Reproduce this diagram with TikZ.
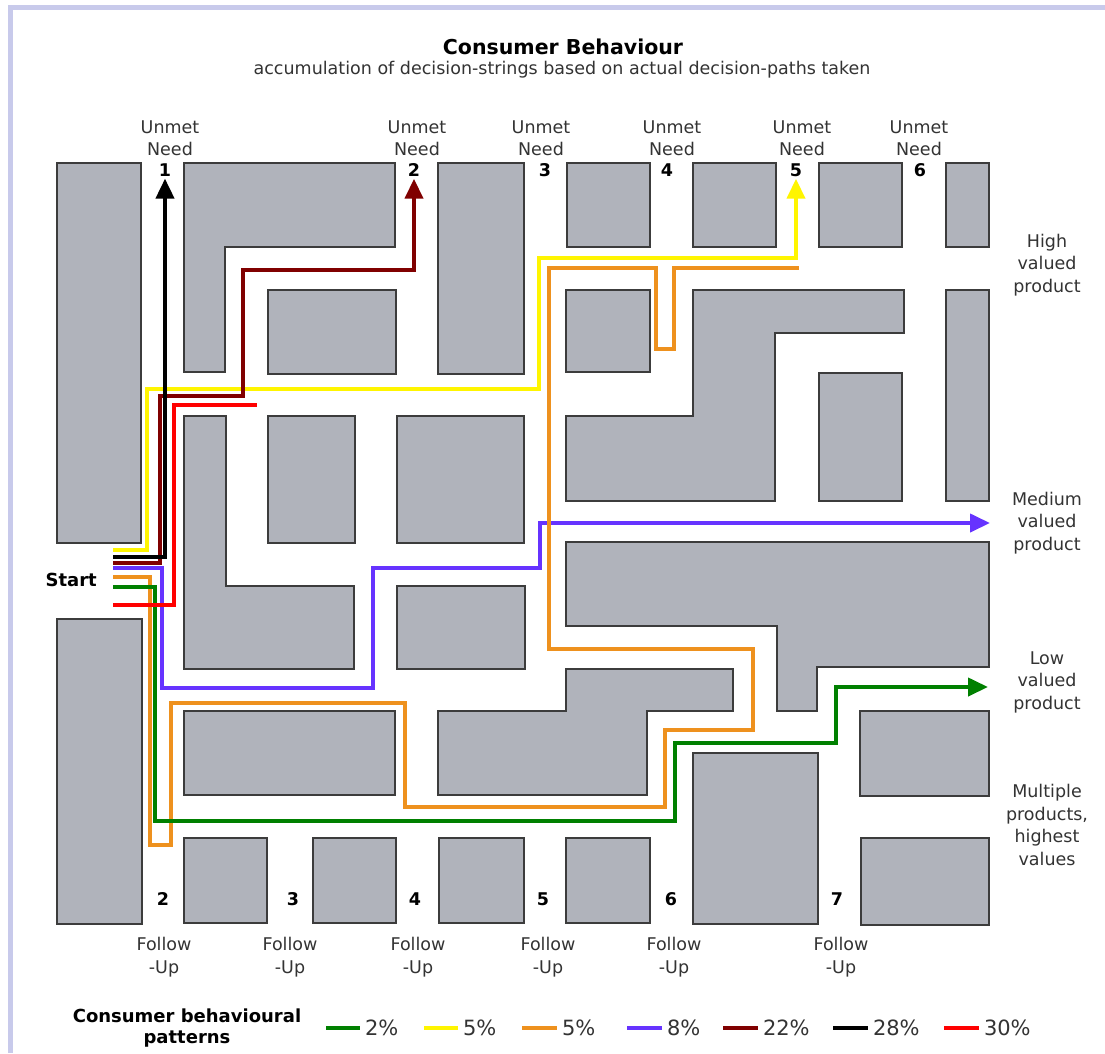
\documentclass[tikz,border=0pt]{standalone}
\usepackage{fontspec}
\setmainfont{DejaVu Sans}
\usetikzlibrary{arrows.meta}

\definecolor{blockgray}{RGB}{176,179,187}
\definecolor{blockedge}{RGB}{60,60,60}
\definecolor{framecol}{RGB}{200,202,235}
\definecolor{pgreen}{RGB}{0,128,0}
\definecolor{pyellow}{RGB}{255,245,0}
\definecolor{porange}{RGB}{238,145,30}
\definecolor{ppurple}{RGB}{102,51,255}
\definecolor{pdarkred}{RGB}{128,0,0}
\definecolor{pred}{RGB}{255,0,0}

\begin{document}
\begin{tikzpicture}[x=1pt,y=-1pt,>={Triangle[length=20pt,width=18pt]},
	block/.style={fill=blockgray,draw=blockedge,line width=2pt},
	route/.style={line width=4pt},
	txt/.style={font=\fontsize{17.5}{22.5}\selectfont,text=black!80,align=center,inner sep=0pt},
	num/.style={font=\fontsize{17.5}{21}\selectfont\bfseries,inner sep=2pt},
	key/.style={line width=4pt},
	key text/.style={font=\fontsize{21}{25}\selectfont,text=black!80,right,inner sep=3pt}]

	\useasboundingbox (0,0) rectangle (1105,1053);
	\fill[white] (0,0) rectangle (1105,1053);
	\draw[framecol,line width=5pt] (10,1053) -- (10,7) -- (1105,7);

	%blocks
	\draw[block] (57,163) rectangle (141,543);
	\draw[block] (184,163) -- (395,163) -- (395,247) -- (225,247) -- (225,372) -- (184,372) -- cycle;
	\draw[block] (268,290) rectangle (396,374);
	\draw[block] (438,163) rectangle (524,374);
	\draw[block] (567,163) rectangle (650,247);
	\draw[block] (693,163) rectangle (776,247);
	\draw[block] (819,163) rectangle (902,247);
	\draw[block] (946,163) rectangle (989,247);
	\draw[block] (566,290) rectangle (650,372);
	\draw[block] (693,290) -- (904,290) -- (904,333) -- (775,333) -- (775,501) -- (566,501) -- (566,416) -- (693,416) -- cycle;
	\draw[block] (819,373) rectangle (902,501);
	\draw[block] (946,290) rectangle (989,501);
	\draw[block] (184,416) -- (226,416) -- (226,586) -- (354,586) -- (354,669) -- (184,669) -- cycle;
	\draw[block] (268,416) rectangle (355,543);
	\draw[block] (397,416) rectangle (524,543);
	\draw[block] (397,586) rectangle (525,669);
	\draw[block] (566,542) -- (989,542) -- (989,667) -- (817,667) -- (817,711) -- (777,711) -- (777,626) -- (566,626) -- cycle;
	\draw[block] (57,619) rectangle (142,924);
	\draw[block] (184,711) rectangle (395,795);
	\draw[block] (438,711) -- (566,711) -- (566,669) -- (733,669) -- (733,711) -- (647,711) -- (647,795) -- (438,795) -- cycle;
	\draw[block] (860,711) rectangle (989,796);
	\draw[block] (693,753) rectangle (818,924);
	\draw[block] (184,838) rectangle (267,923);
	\draw[block] (313,838) rectangle (396,923);
	\draw[block] (439,838) rectangle (524,923);
	\draw[block] (566,838) rectangle (650,923);
	\draw[block] (861,838) rectangle (989,925);

	%title
	\node[font=\fontsize{20.5}{24}\selectfont\bfseries] (title) at (563,47) {Consumer Behaviour};
	\node[txt] (subtitle) at (562,70) {accumulation of decision-strings based on actual decision-paths taken};

	%unmet needs
	\node[txt] (need1) at (170,138) {Unmet\\Need};
	\node[txt] (need2) at (417,138) {Unmet\\Need};
	\node[txt] (need3) at (541,138) {Unmet\\Need};
	\node[txt] (need4) at (672,138) {Unmet\\Need};
	\node[txt] (need5) at (802,138) {Unmet\\Need};
	\node[txt] (need6) at (919,138) {Unmet\\Need};
	\node[num] (un1) at (165,170) {1};
	\node[num] (un2) at (414,170) {2};
	\node[num] (un3) at (545,170) {3};
	\node[num] (un4) at (667,170) {4};
	\node[num] (un5) at (796,170) {5};
	\node[num] (un6) at (920,170) {6};

	%product values
	\node[txt] (high) at (1047,265) {High\\valued\\product};
	\node[txt] (medium) at (1047,523) {Medium\\valued\\product};
	\node[txt] (low) at (1047,682) {Low\\valued\\product};
	\node[txt] (multiple) at (1047,825) {Multiple\\products,\\highest\\values};

	%follow-ups
	\node[num] (fu2) at (163,899) {2};
	\node[num] (fu3) at (293,899) {3};
	\node[num] (fu4) at (415,899) {4};
	\node[num] (fu5) at (543,899) {5};
	\node[num] (fu6) at (671,899) {6};
	\node[num] (fu7) at (837,899) {7};
	\node[txt] (follow2) at (164,957) {Follow\\-Up};
	\node[txt] (follow3) at (290,957) {Follow\\-Up};
	\node[txt] (follow4) at (418,957) {Follow\\-Up};
	\node[txt] (follow5) at (548,957) {Follow\\-Up};
	\node[txt] (follow6) at (674,957) {Follow\\-Up};
	\node[txt] (follow7) at (841,957) {Follow\\-Up};

	%start
	\node[font=\fontsize{18}{21}\selectfont\bfseries,anchor=east,inner sep=0pt] (start) at (97,580) {Start};
	\coordinate (p5y) at (113,550);
	\coordinate (p28) at (113,557);
	\coordinate (p22) at (113,563);
	\coordinate (p8) at (113,568);
	\coordinate (p5o) at (113,577);
	\coordinate (p2) at (113,587);
	\coordinate (p30) at (113,605);
	\coordinate (oend) at (799,268);
	\coordinate (rend) at (257,405);
	\coordinate (medtip) at (990,523);
	\coordinate (lowtip) at (988,687);

	%decision paths
	\draw[route,pyellow,->] (p5y) -| (147,389) -| (539,258) -| (un5.south);
	\draw[route,ppurple,->] (p8) -| (162,688) -| (373,568) -| (540,523) -- (medtip);
	\draw[route,porange] (p5o) -| (150,845) -| (171,703) -| (405,807) -| (665,730) -| (753,649) -| (549,268) -| (656,349) -| (674,268) -- (oend);
	\draw[route,pgreen,->] (p2) -| (155,821) -| (675,743) -| (836,687) -- (lowtip);
	\draw[route,pdarkred,->] (p22) -| (160,396) -| (243,270) -| (un2.south);
	\draw[route,black,->] (p28) -| (un1.south);
	\draw[route,pred] (p30) -| (174,405) -- (rend);

	%legend
	\node[font=\fontsize{18}{21}\selectfont\bfseries,align=center,inner sep=0pt] (keytitle) at (187,1028) {Consumer behavioural\\patterns};
	\draw[key,pgreen] (326,1028) -- (360,1028) node[key text] (k2) {2\%};
	\draw[key,pyellow] (424,1028) -- (458,1028) node[key text] (k5y) {5\%};
	\draw[key,porange] (522,1028) -- (557,1028) node[key text] (k5o) {5\%};
	\draw[key,ppurple] (627,1028) -- (662,1028) node[key text] (k8) {8\%};
	\draw[key,pdarkred] (723,1028) -- (758,1028) node[key text] (k22) {22\%};
	\draw[key,black] (833,1028) -- (868,1028) node[key text] (k28) {28\%};
	\draw[key,pred] (944,1028) -- (979,1028) node[key text] (k30) {30\%};

\end{tikzpicture}
\end{document}
